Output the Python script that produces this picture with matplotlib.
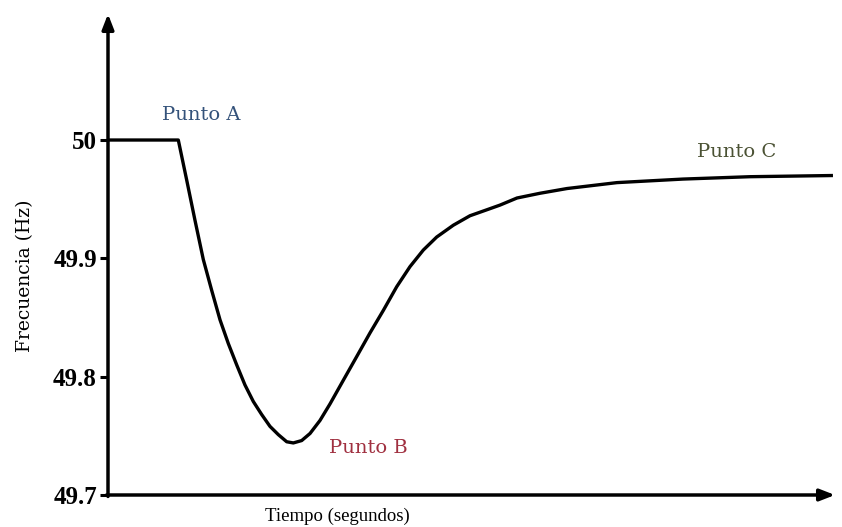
import matplotlib.pyplot as plt

# Datos (tiempo en unidades arbitrarias, frecuencia en Hz)
tiempo = [0, 9.67, 10.83, 11.97, 13.11, 14.26, 15.41, 16.55, 17.70, 18.84,
          19.99, 21.14, 22.28, 23.43, 24.58, 25.49, 26.64, 27.79, 29.16,
          30.54, 32.37, 34.21, 36.04, 37.87, 39.71, 41.54, 43.37, 45.21,
          47.50, 49.79, 52.09, 53.92, 56.26, 59.42, 63.14, 70.01, 79.09,
          88.31, 99.72]
frecuencia = [50.000, 50.000, 49.966, 49.932, 49.899, 49.873, 49.848, 49.828,
              49.810, 49.793, 49.779, 49.768, 49.758, 49.751, 49.745, 49.744,
              49.746, 49.752, 49.763, 49.777, 49.797, 49.817, 49.837, 49.856,
              49.876, 49.893, 49.907, 49.918, 49.928, 49.936, 49.941, 49.945,
              49.951, 49.955, 49.959, 49.964, 49.967, 49.969, 49.970]
yticks = [49.7, 49.8, 49.9, 50.0]
ytick_labels = ['49.7', '49.8', '49.9', '50']

puntos = ['Punto A', 'Punto B', 'Punto C']
puntos_t = [12.8, 35.8, 86.5]
puntos_f = [50.021, 49.740, 49.990]
puntos_color = ['#34527a', '#a03040', '#4b5234']

serif = ['DejaVu Serif']
times = ['Liberation Serif', 'DejaVu Serif']

fig = plt.figure(figsize=(8.42, 5.27), dpi=100)
ax = fig.add_axes([108 / 842, 32 / 527, 727 / 842, 481 / 527])

ax.plot(tiempo, frecuencia, color='black', lw=2.4,
        solid_joinstyle='round', solid_capstyle='butt')

ax.set_xlim(0, 100)
ax.set_ylim(49.7, 50.1065)

# Ejes con flechas
for s in ['top', 'right', 'left', 'bottom']:
    ax.spines[s].set_visible(False)
ax.annotate('', xy=(0, 1), xytext=(0, -0.003), xycoords='axes fraction',
            arrowprops=dict(arrowstyle='-|>,head_length=0.9,head_width=0.35',
                            color='black', lw=2.5, shrinkA=0, shrinkB=0))
ax.annotate('', xy=(1, 0), xytext=(-0.002, 0), xycoords='axes fraction',
            arrowprops=dict(arrowstyle='-|>,head_length=0.9,head_width=0.35',
                            color='black', lw=2.5, shrinkA=0, shrinkB=0))

ax.set_xticks([])
ax.set_yticks(yticks)
ax.set_yticklabels(ytick_labels, fontfamily=times, fontweight='bold', fontsize=18)
ax.tick_params(axis='y', direction='out', length=6, width=2.2, pad=2)

for nombre, t, f, c in zip(puntos, puntos_t, puntos_f, puntos_color):
    ax.text(t, f, nombre, color=c, fontsize=14, family=serif,
            ha='center', va='center')

fig.text(25 / 842, 1 - 276 / 527, 'Frecuencia (Hz)', rotation=90,
         family=serif, fontsize=13.5, ha='center', va='center')
fig.text(337 / 842, 1 - 516 / 527, 'Tiempo (segundos)',
         family=times, fontsize=13.5, ha='center', va='center')

fig.savefig('out.png', dpi=100)
